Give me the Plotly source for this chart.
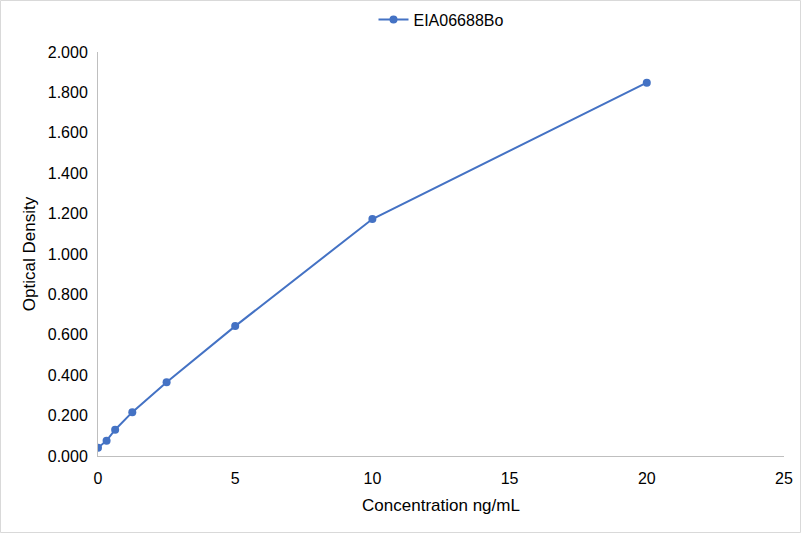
import plotly.graph_objects as go

# standard curve data
concentration = [0, 0.3125, 0.625, 1.25, 2.5, 5, 10, 20]
optical_density = [0.041, 0.076, 0.130, 0.217, 0.365, 0.643, 1.173, 1.848]
series_name = "EIA06688Bo"

y_ticks = [0, 0.2, 0.4, 0.6, 0.8, 1.0, 1.2, 1.4, 1.6, 1.8, 2.0]
y_tick_labels = [f"{v:.3f}" for v in y_ticks]
x_ticks = [0, 5, 10, 15, 20, 25]

font_family = "Liberation Sans, Arial, sans-serif"
blue = "#4472C4"

W, H = 801, 533
L, R, T, B = 98, 17, 52, 77
pw, ph = W - L - R, H - T - B

fig = go.Figure()

fig.add_trace(go.Scatter(
    x=concentration,
    y=optical_density,
    mode="lines+markers",
    name=series_name,
    line=dict(color=blue, width=2),
    marker=dict(color=blue, size=8),
))

fig.update_layout(
    width=W, height=H,
    margin=dict(l=L, r=R, t=T, b=B, autoexpand=False),
    paper_bgcolor="white",
    plot_bgcolor="white",
    font=dict(family=font_family, size=16, color="black"),
    showlegend=True,
    legend=dict(
        orientation="h",
        x=0.5, xanchor="center",
        y=0.995, yanchor="top",
        yref="container",
        font=dict(size=16),
    ),
    xaxis=dict(
        range=[0, 25],
        tickvals=x_ticks,
        showgrid=False,
        zeroline=False,
        showline=True,
        linecolor="#BFBFBF",
        linewidth=1,
        ticks="",
        ticklabelstandoff=8,
        title=dict(text="Concentration ng/mL", font=dict(size=17), standoff=12),
    ),
    yaxis=dict(
        range=[0, 2.0],
        tickvals=y_ticks,
        ticktext=y_tick_labels,
        showgrid=False,
        zeroline=False,
        showline=True,
        linecolor="#BFBFBF",
        linewidth=1,
        ticks="",
        ticklabelstandoff=6,
        title=dict(text="Optical Density", font=dict(size=17), standoff=7),
    ),
)

# thin light border round the whole chart
fig.add_shape(
    type="rect", xref="paper", yref="paper",
    x0=-(L - 0.5) / pw, x1=1 + (R - 0.5) / pw,
    y0=-(B - 0.5) / ph, y1=1 + (T - 0.5) / ph,
    line=dict(color="#D9D9D9", width=1),
)

fig.write_html(
    "out.html",
    config={"displayModeBar": False},
    post_script="document.body.style.margin='0';document.body.style.overflow='hidden';",
)
